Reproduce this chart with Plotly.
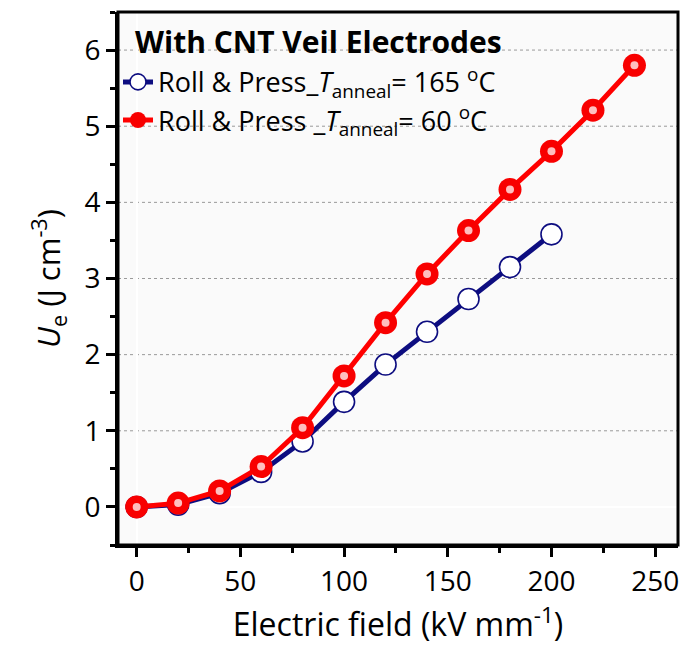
import plotly.graph_objects as go

field_165 = [0, 20, 40, 60, 80, 100, 120, 140, 160, 180, 200]
ue_165 = [0.0, 0.03, 0.18, 0.46, 0.86, 1.38, 1.87, 2.30, 2.73, 3.15, 3.58]

field_60 = [0, 20, 40, 60, 80, 100, 120, 140, 160, 180, 200, 220, 240]
ue_60 = [0.0, 0.05, 0.21, 0.53, 1.04, 1.72, 2.42, 3.06, 3.63, 4.17, 4.67, 5.21, 5.80]

name_165 = "Roll & Press_<i>T</i><sub>anneal</sub>= 165 <sup>o</sup>C"
name_60 = "Roll & Press _<i>T</i><sub>anneal</sub>= 60 <sup>o</sup>C"
legend_title = "<b>With CNT Veil Electrodes</b>"

x_ticks = [0, 50, 100, 150, 200, 250]
y_ticks = [0, 1, 2, 3, 4, 5, 6]

fig = go.Figure()
fig.add_trace(go.Scatter(
    x=field_165, y=ue_165, name=name_165, mode="lines+markers",
    line=dict(color="#0d0d80", width=5),
    marker=dict(symbol="circle", size=21, color="white",
                line=dict(color="#0d0d80", width=1.6)),
))
fig.add_trace(go.Scatter(
    x=field_60, y=ue_60, name=name_60, mode="lines+markers",
    line=dict(color="#ff0000", width=5),
    marker=dict(symbol="circle", size=23, color="#f80000"),
))
# specular highlight on the red spheres
fig.add_trace(go.Scatter(
    x=field_60, y=ue_60, mode="markers", showlegend=False, hoverinfo="skip",
    marker=dict(symbol="circle", size=8, color="rgba(255,225,225,0.85)"),
))

# dotted horizontal grid at the major y ticks
for yv in y_ticks:
    fig.add_shape(type="line", xref="paper", yref="y", x0=0, x1=1, y0=yv, y1=yv,
                  line=dict(color="#9a9a9a", width=1, dash="dot"), layer="below")
# frame
fig.add_shape(type="rect", xref="paper", yref="paper", x0=0, x1=1, y0=0, y1=1,
              line=dict(color="black", width=3), layer="above")

fig.add_annotation(text=legend_title, xref="paper", yref="paper", x=0.027, y=0.945,
                   xanchor="left", yanchor="middle", showarrow=False,
                   font=dict(size=30, color="black"))

fig.update_layout(
    width=689, height=646,
    margin=dict(l=118, r=10, t=12, b=90),
    plot_bgcolor="#fafafa",
    xaxis=dict(
        range=[-9, 261], tickvals=x_ticks,
        showgrid=False,
        showline=True, linecolor="black", linewidth=3,
        ticks="outside", ticklen=9, tickwidth=3, tickcolor="black",
        tickfont=dict(size=28, color="black"),
        minor=dict(dtick=25, ticks="outside", ticklen=5, tickwidth=3,
                   tickcolor="black", showgrid=False),
        title=dict(text="Electric field (kV mm<sup>-1</sup>)",
                   font=dict(size=32, color="black")),
    ),
    yaxis=dict(
        range=[-0.5, 6.5], tickvals=y_ticks,
        showgrid=False,
        showline=True, linecolor="black", linewidth=3,
        ticks="outside", ticklen=9, tickwidth=3, tickcolor="black",
        tickfont=dict(size=28, color="black"),
        minor=dict(dtick=0.5, ticks="outside", ticklen=5, tickwidth=3,
                   tickcolor="black", showgrid=False),
        title=dict(text="<i>U</i><sub>e</sub> (J cm<sup>-3</sup>)",
                   font=dict(size=31, color="black")),
    ),
    showlegend=True,
    legend=dict(
        x=0.0, y=0.914, xanchor="left", yanchor="top",
        bgcolor="rgba(0,0,0,0)",
        font=dict(size=27, color="black"),
    ),
)

fig.write_html("out.html")
